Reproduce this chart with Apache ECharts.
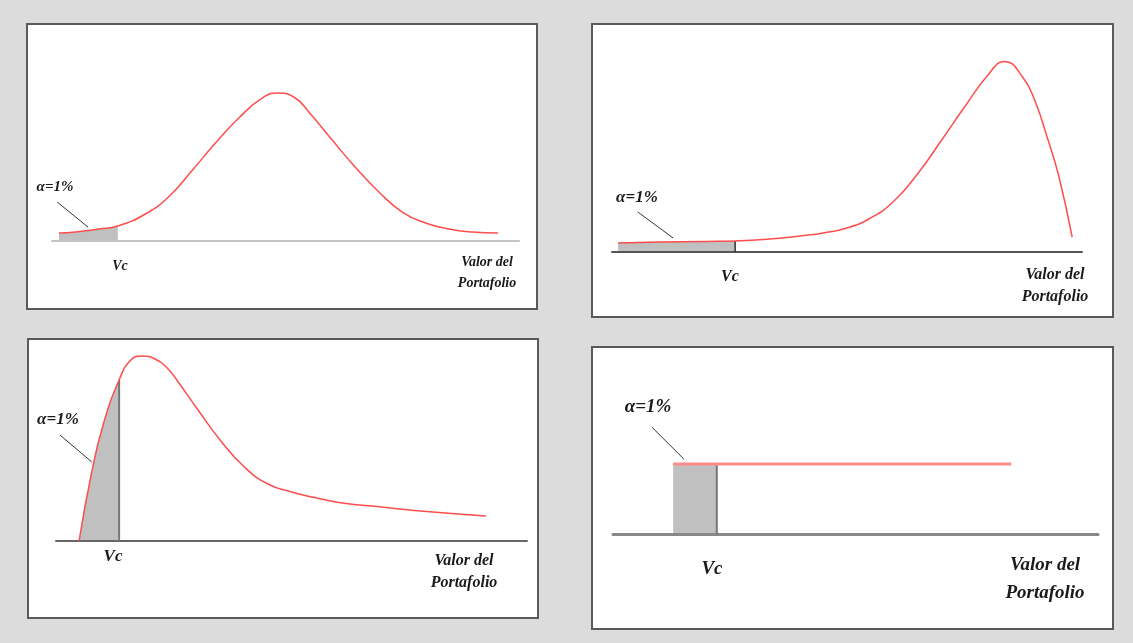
<!DOCTYPE html>
<html><head><meta charset="utf-8">
<script src="https://cdn.jsdelivr.net/npm/echarts/dist/echarts.min.js"></script>
<style>html,body{margin:0;padding:0;background:#dcdcdc}#c{width:1133px;height:643px}</style>
</head><body><div id="c"></div><script>
// ---- data (x = portfolio value units 0..100, y = density units) ----
const p1Pos  = [1.5, 5, 10, 14.1, 20, 25, 30, 35, 40, 45, 48.5, 52, 55, 60, 65, 70, 75, 80, 85, 90, 95.5];
const p1Dens = [5.3, 6, 8, 10, 18, 29.5, 47, 65.3, 82, 95.3, 98.7, 95.5, 86, 67.3, 49, 32.7, 19.3, 12, 8, 6, 5.3];
const p1Vc = 14.1;
const p1Pointer = [[1.1, 26], [7.7, 9.3]];

const p2Pos  = [1.3, 10, 20, 26.2, 35, 40, 45, 50, 55, 60, 65, 70, 75, 80, 83.5, 87.5, 90, 92.5, 95, 97.9];
const p2Dens = [4.5, 5, 5.3, 5.5, 6.7, 8, 9.5, 12, 17, 25.5, 39, 55.5, 72.5, 88.5, 95.3, 87, 75.5, 58, 38.5, 7.5];
const p2Vc = 26.2;
const p2Pointer = [[5.5, 20], [13.0, 7]];

const p3Pos  = [4.9, 7.5, 10, 13.4, 15.9, 18.3, 21.0, 23.6, 26.1, 30, 35, 40, 45, 50, 55, 60, 70, 80, 91.3];
const p3Dens = [0, 33.5, 58, 80.5, 90.5, 92.5, 91, 86.5, 79, 66, 50, 37, 28.5, 24.5, 21.7, 19.3, 16.75, 14.5, 12.5];
const p3Vc = 13.4;
const p3Pointer = [[0.85, 53], [7.6, 39.5]];

const p4Pos  = [12.4, 82.1];
const p4Dens = [46.7, 46.7];
const p4Vc = 21.4;
const p4Pointer = [[8.0, 71.3], [14.6, 50]];

const labelAlpha = 'α=1%';
const labelVc = 'Vc';
const labelValor = ['Valor del', 'Portafolio'];

// ---- helpers ----
const zip = (xs, ys) => xs.map((x, i) => [x, ys[i]]);
const upTo = (pts, vc) => pts.filter(p => p[0] <= vc + 1e-9);
const at = (xs, ys, v) => { const i = xs.indexOf(v); return i >= 0 ? ys[i] : ys[0]; };

const panels = [
  {pos: p1Pos, dens: p1Dens, vc: p1Vc, ptr: p1Pointer, grid: {left: 52, top: 91, width: 467, height: 150},
   base: '#c4c4c4', baseW: 2, vcLine: null, red: '#ff4d4d', redW: 1.5, smooth: 0.5},
  {pos: p2Pos, dens: p2Dens, vc: p2Vc, ptr: p2Pointer, grid: {left: 612, top: 52, width: 470, height: 200},
   base: '#555', baseW: 2, vcLine: '#333', redW: 1.5, red: '#ff4d4d', smooth: 0.5},
  {pos: p3Pos, dens: p3Dens, vc: p3Vc, ptr: p3Pointer, grid: {left: 56, top: 341, width: 471, height: 200},
   base: '#666', baseW: 2, vcLine: '#777', redW: 1.5, red: '#ff4d4d', smooth: 0.5},
  {pos: p4Pos, dens: p4Dens, vc: p4Vc, ptr: p4Pointer, grid: {left: 613, top: 384, width: 485, height: 150},
   base: '#888', baseW: 3, vcLine: '#777', redW: 3, red: '#ff8c8c', smooth: false}
];

const grids = [], xAxes = [], yAxes = [], series = [];
panels.forEach((p, i) => {
  grids.push(Object.assign({containLabel: false}, p.grid));
  xAxes.push({type: 'value', gridIndex: i, min: 0, max: 100, z: 3,
    axisLine: {show: true, onZero: false, lineStyle: {color: p.base, width: p.baseW}},
    axisTick: {show: false}, axisLabel: {show: false}, splitLine: {show: false}});
  yAxes.push({type: 'value', gridIndex: i, min: 0, max: 100,
    axisLine: {show: false}, axisTick: {show: false}, axisLabel: {show: false}, splitLine: {show: false}});
  const pts = zip(p.pos, p.dens);
  let shade;
  if (i === 3) shade = [[p.pos[0], p.dens[0]], [p.vc, p.dens[0]]];
  else shade = upTo(pts, p.vc);
  series.push({type: 'line', xAxisIndex: i, yAxisIndex: i, data: shade, smooth: p.smooth, symbol: 'none',
    lineStyle: {width: 0}, areaStyle: {color: '#c0c0c0', opacity: 1}, z: 2, silent: true});
  if (p.vcLine) {
    const top = i === 3 ? p.dens[0] : at(p.pos, p.dens, p.vc);
    series.push({type: 'line', xAxisIndex: i, yAxisIndex: i, data: [[p.vc, 0], [p.vc, top]], symbol: 'none',
      lineStyle: {color: p.vcLine, width: i === 1 ? 1.5 : 2}, z: 3, silent: true});
  }
  series.push({type: 'line', xAxisIndex: i, yAxisIndex: i, data: pts, smooth: p.smooth, symbol: 'none',
    lineStyle: {color: p.red, width: p.redW}, z: 4, silent: true});
  series.push({type: 'line', xAxisIndex: i, yAxisIndex: i, data: p.ptr, symbol: 'none', clip: false,
    lineStyle: {color: '#333', width: 1}, z: 4, silent: true});
});

const boxes = [
  {x: 27, y: 24, w: 510, h: 285},
  {x: 592, y: 24, w: 521, h: 293},
  {x: 28, y: 339, w: 510, h: 279},
  {x: 592, y: 347, w: 521, h: 282}
];
const texts = [
  {a: [55, 187, 15], vc: [120, 266, 14], v: [487, 262, 283, 14]},
  {a: [637, 198, 17], vc: [730, 277, 16], v: [1055, 275, 297, 16]},
  {a: [58, 420, 17], vc: [113, 557, 17], v: [464, 561, 583, 16]},
  {a: [648, 407, 19], vc: [712, 569, 19], v: [1045, 565, 593, 19]}
];
const font = (s) => 'italic bold ' + s + 'px "Liberation Serif", "DejaVu Serif", serif';
const graphic = [];
boxes.forEach(b => graphic.push({type: 'rect', z: -10, shape: {x: b.x, y: b.y, width: b.w, height: b.h},
  style: {fill: '#ffffff', stroke: '#5a5a5a', lineWidth: 2}}));
texts.forEach(t => {
  graphic.push({type: 'text', z: 10, x: t.a[0], y: t.a[1], style: {text: labelAlpha, font: font(t.a[2]), fill: '#1a1a1a', textAlign: 'center', textVerticalAlign: 'middle'}});
  graphic.push({type: 'text', z: 10, x: t.vc[0], y: t.vc[1], style: {text: labelVc, font: font(t.vc[2]), fill: '#1a1a1a', textAlign: 'center', textVerticalAlign: 'middle'}});
  graphic.push({type: 'text', z: 10, x: t.v[0], y: t.v[1], style: {text: labelValor[0], font: font(t.v[3]), fill: '#1a1a1a', textAlign: 'center', textVerticalAlign: 'middle'}});
  graphic.push({type: 'text', z: 10, x: t.v[0], y: t.v[2], style: {text: labelValor[1], font: font(t.v[3]), fill: '#1a1a1a', textAlign: 'center', textVerticalAlign: 'middle'}});
});

const chart = echarts.init(document.getElementById('c'), null, {renderer: 'canvas'});
chart.setOption({
  backgroundColor: '#dcdcdc',
  animation: false,
  grid: grids, xAxis: xAxes, yAxis: yAxes, series: series,
  graphic: graphic
});
</script></body></html>
